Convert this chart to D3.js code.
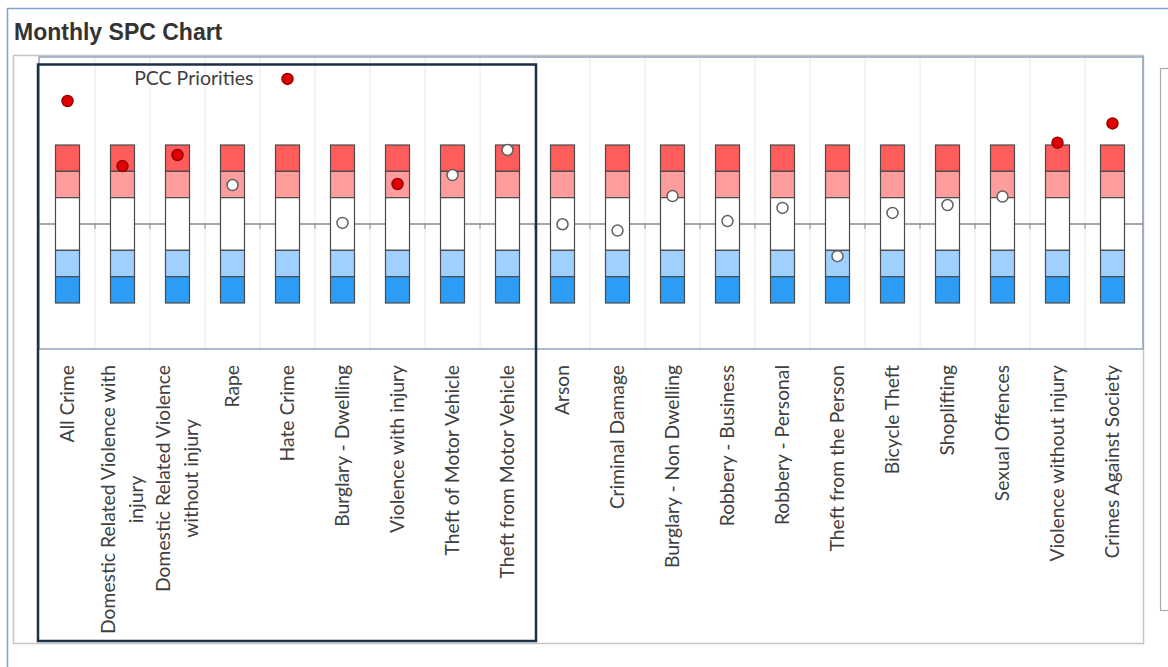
<!DOCTYPE html>
<html>
<head>
<meta charset="utf-8">
<script src="https://cdn.jsdelivr.net/npm/d3@7"></script>
<style>
  body { margin: 0; background: #fff; }
  svg { display: block; }
</style>
</head>
<body>
<svg id="chart" width="1168" height="667"></svg>
<script>
// categories in chart order
const categories = [
    "All Crime", "Domestic Related Violence with injury", "Domestic Related Violence without injury",
    "Rape", "Hate Crime", "Burglary - Dwelling", "Violence with injury", "Theft of Motor Vehicle",
    "Theft from Motor Vehicle", "Arson", "Criminal Damage", "Burglary - Non Dwelling",
    "Robbery - Business", "Robbery - Personal", "Theft from the Person", "Bicycle Theft",
    "Shoplifting", "Sexual Offences", "Violence without injury", "Crimes Against Society"
];
// monthly value in standard deviations from the mean
const values = [4.67, 2.20, 2.62, 1.48, 5.51, 0.04, 1.52, 1.86, 2.81, -0.01,
    -0.25, 1.06, 0.11, 0.61, -1.22, 0.42, 0.72, 1.04, 3.09, 3.82];
// red dot = PCC priority
const priority = [true, true, true, false, true, false, true, false, false, false,
    false, false, false, false, false, false, false, false, true, true];
// wrapped axis labels
const labelLines = {
    "Domestic Related Violence with injury": ["Domestic Related Violence with", "injury"],
    "Domestic Related Violence without injury": ["Domestic Related Violence", "without injury"]
};
const boxedCount = 9; // first nine categories sit in the dark box
const bandEdges = [3, 2, 1, -1, -2, -3];
const bandColors = ["#ff5c5c", "#ff9c9c", "#ffffff", "#a0d0ff", "#2d9cf5"];
const legendLabel = "PCC Priorities";
const legendIndex = 4;

const svg = d3.select("#chart");

const plot = {left: 39, right: 1143, top: 57, bottom: 349};

const x = d3.scaleBand().domain(categories).range([40, 1140]);
const y = d3.scaleLinear().domain([-3, 3]).range([303, 145]);

// outer blue frame
svg.append("line").attr("x1", 7).attr("x2", 1168).attr("y1", 8.5).attr("y2", 8.5)
    .attr("stroke", "#7ea3d3").attr("stroke-width", 1.5);
svg.append("line").attr("x1", 7.5).attr("x2", 7.5).attr("y1", 8).attr("y2", 667)
    .attr("stroke", "#7ea3d3").attr("stroke-width", 1.5);

svg.append("text")
    .attr("x", 14).attr("y", 40)
    .attr("font-family", "Liberation Sans, Arial, sans-serif")
    .attr("font-weight", "bold").attr("font-size", 23)
    .attr("fill", "#333")
    .text("Monthly SPC Chart");

// chart area outline
svg.append("rect")
    .attr("x", 13.5).attr("y", 55.5).attr("width", 1130).attr("height", 588)
    .attr("fill", "none").attr("stroke", "#c4c4c4").attr("stroke-width", 1.5);

// right hand panel
svg.append("rect")
    .attr("x", 1160.5).attr("y", 68.5).attr("width", 30).attr("height", 542)
    .attr("fill", "none").attr("stroke", "#a8a8a8").attr("stroke-width", 1.2);

// vertical gridlines at category boundaries
const boundaries = categories.slice(1).map(c => x(c));
svg.append("g").selectAll("line")
    .data(boundaries)
    .join("line")
    .attr("x1", d => d).attr("x2", d => d)
    .attr("y1", plot.top).attr("y2", plot.bottom)
    .attr("stroke", "#e8e8e8").attr("stroke-width", 1);

// plot area border
svg.append("rect")
    .attr("x", plot.left).attr("y", plot.top)
    .attr("width", plot.right - plot.left).attr("height", plot.bottom - plot.top)
    .attr("fill", "none").attr("stroke", "#8fa3ba").attr("stroke-width", 1.5);

// centre line with small ticks
svg.append("line")
    .attr("x1", plot.left).attr("x2", plot.right)
    .attr("y1", y(0)).attr("y2", y(0))
    .attr("stroke", "#8a8a8a").attr("stroke-width", 1.5);
svg.append("g").selectAll("line")
    .data(boundaries)
    .join("line")
    .attr("x1", d => d).attr("x2", d => d)
    .attr("y1", y(0)).attr("y2", y(0) + 5)
    .attr("stroke", "#8a8a8a").attr("stroke-width", 1);

// control band stacks
const barW = 24;
const bands = d3.range(bandColors.length).map(i => ({hi: bandEdges[i], lo: bandEdges[i + 1], color: bandColors[i]}));
const stacks = svg.append("g").selectAll("g")
    .data(categories)
    .join("g")
    .attr("transform", d => `translate(${x(d) + x.bandwidth() / 2 - barW / 2},0)`);
stacks.selectAll("rect")
    .data(bands)
    .join("rect")
    .attr("x", 0).attr("width", barW)
    .attr("y", d => y(d.hi)).attr("height", d => y(d.lo) - y(d.hi))
    .attr("fill", d => d.color)
    .attr("stroke", "#4a4a4a").attr("stroke-width", 1.2);

// highlight box round the first group
svg.append("rect")
    .attr("x", 38).attr("y", 64.5)
    .attr("width", x(categories[boxedCount]) + 1 - 38).attr("height", 641 - 64.5)
    .attr("fill", "none").attr("stroke", "#1c2f48").attr("stroke-width", 2.5);

// points
svg.append("g").selectAll("circle")
    .data(categories)
    .join("circle")
    .attr("cx", d => x(d) + x.bandwidth() / 2)
    .attr("cy", (d, i) => y(values[i]))
    .attr("r", 5.5)
    .attr("fill", (d, i) => priority[i] ? "#e00000" : "#ffffff")
    .attr("stroke", (d, i) => priority[i] ? "#9a0000" : "#606060")
    .attr("stroke-width", 1.5);

svg.append("text")
    .attr("x", x(categories[legendIndex]) + x.bandwidth() / 2 - 34)
    .attr("y", y(values[legendIndex]) + 6)
    .attr("text-anchor", "end")
    .attr("font-family", "Lato, sans-serif").attr("font-size", 19.5)
    .attr("fill", "#404040")
    .text(legendLabel);

// rotated category labels
const labelTop = 365;
const lbl = svg.append("g")
    .attr("font-family", "Lato, sans-serif").attr("font-size", 19.3)
    .attr("fill", "#404040");
categories.forEach(c => {
    const cx = x(c) + x.bandwidth() / 2;
    const lines = labelLines[c] || [c];
    const t = lbl.append("text")
        .attr("transform", `translate(${cx},${labelTop}) rotate(-90)`);
    if (lines.length === 1) {
        t.attr("text-anchor", "end").attr("dy", "0.35em").text(c);
    } else {
        const tsp = t.selectAll("tspan").data(lines).join("tspan")
            .attr("x", 0)
            .attr("y", (d, i) => (i - (lines.length - 1) / 2) * 28)
            .attr("dy", "0.35em")
            .text(d => d);
        const maxLen = d3.max(tsp.nodes(), n => n.getComputedTextLength());
        t.attr("text-anchor", "middle")
            .attr("transform", `translate(${cx},${labelTop + maxLen / 2}) rotate(-90)`);
    }
});
</script>
</body>
</html>
